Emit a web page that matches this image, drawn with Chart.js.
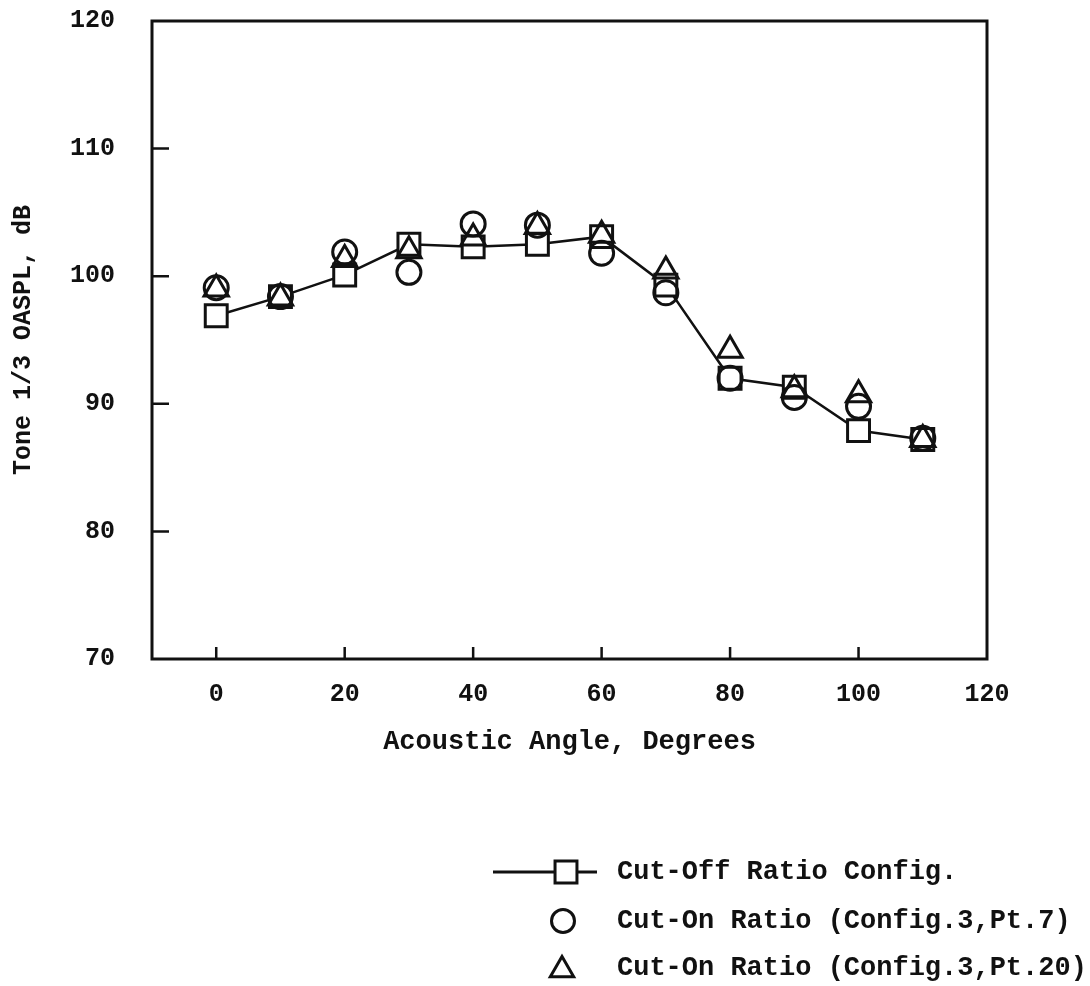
<!DOCTYPE html>
<html>
<head>
<meta charset="utf-8">
<script src="https://cdn.jsdelivr.net/npm/chart.js@4.4.1/dist/chart.umd.min.js"></script>
<style>
  html, body { margin: 0; padding: 0; background: #fff; }
  #wrap { width: 1090px; height: 986px; }
</style>
</head>
<body>
<div id="wrap"><canvas id="chart" width="1090" height="986"></canvas></div>
<script>
// acoustic angle (deg) vs tone 1/3 OASPL (dB)
const angles = [0, 10, 20, 30, 40, 50, 60, 70, 80, 90, 100, 110];
const cutOff = [96.9, 98.4, 100.1, 102.5, 102.3, 102.5, 103.1, 99.3, 92.0, 91.3, 87.9, 87.2];
const cutOnPt7 = [99.1, 98.4, 101.9, 100.3, 104.1, 104.0, 101.8, 98.7, 92.0, 90.5, 89.8, 87.3];
const cutOnPt20 = [99.0, 98.3, 101.3, 102.0, 103.0, 103.9, 103.2, 100.4, 94.2, 91.1, 90.7, 87.2];

const xTickValues = [0, 20, 40, 60, 80, 100, 120];
const yTickValues = [70, 80, 90, 100, 110, 120];
const xTickMarks = [0, 20, 40, 60, 80, 100];
const yTickMarks = [80, 90, 100, 110];

const legendLabels = ['Cut-Off Ratio Config.', 'Cut-On Ratio (Config.3,Pt.7)', 'Cut-On Ratio (Config.3,Pt.20)'];

const INK = '#111';
const FONT = "'Liberation Mono', 'Courier New', monospace";

const pts = arr => angles.map((a, i) => ({ x: a, y: arr[i] }));

// box round the plot + inward tick marks
const frameAndTicks = {
    id: 'frameAndTicks',
    afterDatasetsDraw(chart) {
        const { ctx, chartArea: a, scales: { x, y } } = chart;
        ctx.save();
        ctx.strokeStyle = INK;
        ctx.lineWidth = 3;
        ctx.strokeRect(a.left, a.top, a.right - a.left, a.bottom - a.top);
        ctx.lineWidth = 2.5;
        ctx.beginPath();
        xTickMarks.forEach(v => {
            const px = x.getPixelForValue(v);
            ctx.moveTo(px, a.bottom);
            ctx.lineTo(px, a.bottom - 12);
        });
        yTickMarks.forEach(v => {
            const py = y.getPixelForValue(v);
            ctx.moveTo(a.left, py);
            ctx.lineTo(a.left + 17, py);
        });
        ctx.stroke();
        ctx.restore();
    }
};

// legend, bottom right
const legendBox = {
    id: 'legendBox',
    afterDraw(chart) {
        const ctx = chart.ctx;
        const rows = [872, 921, 968];
        ctx.save();
        ctx.strokeStyle = INK;
        ctx.fillStyle = INK;
        ctx.lineWidth = 3;
        ctx.beginPath();
        ctx.moveTo(493, rows[0]);
        ctx.lineTo(597, rows[0]);
        ctx.stroke();

        ctx.fillStyle = '#fff';
        Chart.helpers.drawPoint(ctx, { pointStyle: 'rect', radius: 15.5, borderWidth: 3, rotation: 0 }, 566, rows[0]);
        ctx.fillStyle = 'rgba(0,0,0,0)';
        Chart.helpers.drawPoint(ctx, { pointStyle: 'circle', radius: 11.5, borderWidth: 3, rotation: 0 }, 563, rows[1]);
        Chart.helpers.drawPoint(ctx, { pointStyle: 'triangle', radius: 13.5, borderWidth: 3, rotation: 0 }, 562, rows[2] + 2);

        ctx.fillStyle = INK;
        ctx.font = 'bold 27px ' + FONT;
        ctx.textBaseline = 'middle';
        ctx.textAlign = 'left';
        legendLabels.forEach((t, i) => ctx.fillText(t, 617, rows[i]));
        ctx.restore();
    }
};

const tickFont = { family: FONT, size: 25, weight: 'bold' };

new Chart(document.getElementById('chart'), {
    type: 'scatter',
    data: {
        datasets: [
            {
                label: legendLabels[0],
                data: pts(cutOff),
                showLine: true,
                borderColor: INK,
                borderWidth: 2.5,
                pointStyle: 'rect',
                pointRadius: 15.5,
                pointBorderWidth: 3,
                pointBorderColor: INK,
                pointBackgroundColor: '#fff',
                order: 3
            },
            {
                label: legendLabels[1],
                data: pts(cutOnPt7),
                pointStyle: 'circle',
                pointRadius: 12,
                pointBorderWidth: 3,
                pointBorderColor: INK,
                pointBackgroundColor: 'rgba(0,0,0,0)',
                order: 2
            },
            {
                label: legendLabels[2],
                data: pts(cutOnPt20),
                pointStyle: 'triangle',
                pointRadius: 14,
                pointBorderWidth: 3,
                pointBorderColor: INK,
                pointBackgroundColor: 'rgba(0,0,0,0)',
                order: 1
            }
        ]
    },
    options: {
        responsive: false,
        animation: false,
        devicePixelRatio: 1,
        clip: false,
        layout: { autoPadding: false, padding: { top: 21, right: 103, left: 0, bottom: 227 } },
        plugins: {
            legend: { display: false },
            tooltip: { enabled: false }
        },
        scales: {
            x: {
                type: 'linear',
                min: -10,
                max: 120,
                afterBuildTicks: s => { s.ticks = xTickValues.map(v => ({ value: v })); },
                afterFit: s => { s.height = 100; },
                grid: { display: false, drawTicks: false },
                border: { display: false },
                ticks: { padding: 21, color: INK, font: tickFont, maxRotation: 0, autoSkip: false },
                title: {
                    display: true,
                    text: 'Acoustic Angle, Degrees',
                    color: INK,
                    font: { family: FONT, size: 27, weight: 'bold' },
                    padding: { top: 0, bottom: 1 }
                }
            },
            y: {
                type: 'linear',
                min: 70,
                max: 120,
                afterBuildTicks: s => { s.ticks = yTickValues.map(v => ({ value: v })); },
                afterFit: s => { s.width = 152; },
                // invisible tick marks only push the labels off the axis
                grid: { display: true, drawOnChartArea: false, drawTicks: true, tickLength: 31, tickColor: 'rgba(0,0,0,0)' },
                border: { display: false },
                ticks: { padding: 6, color: INK, font: tickFont },
                title: {
                    display: true,
                    text: 'Tone 1/3 OASPL, dB',
                    color: INK,
                    font: { family: FONT, size: 25, weight: 'bold' },
                    padding: { top: 9, bottom: 0 }
                }
            }
        }
    },
    plugins: [frameAndTicks, legendBox]
});
</script>
</body>
</html>
